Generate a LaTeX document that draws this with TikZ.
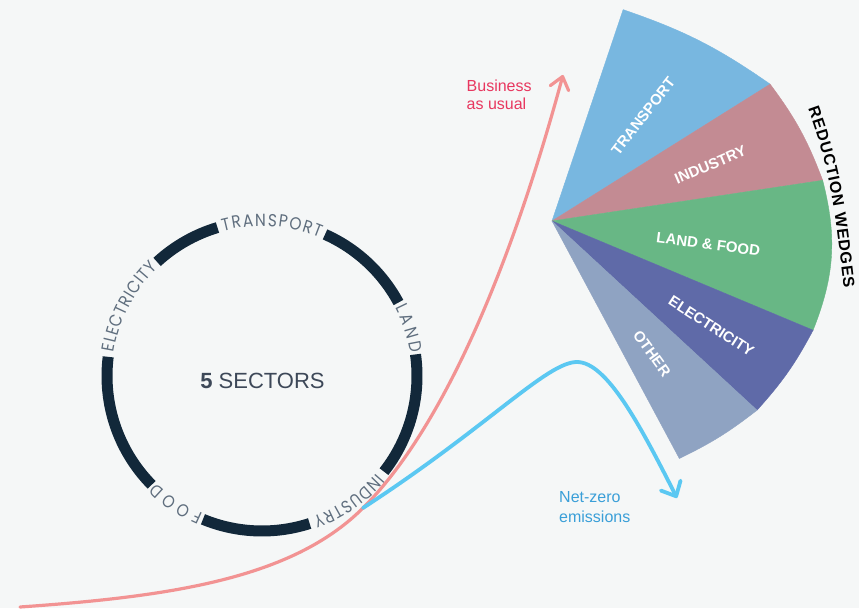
\documentclass[tikz,border=0pt]{standalone}
\usepackage{fontspec}
\setmainfont{Liberation Sans}
\newfontfamily\ringfont{Poppins}[FakeStretch=0.88]
\usetikzlibrary{arrows.meta,decorations.text}

\definecolor{bgcol}{HTML}{F5F7F7}
\definecolor{ringcol}{HTML}{12283A}
\definecolor{ringtextcol}{HTML}{5F6E7E}
\definecolor{sectorcol}{HTML}{3D4858}
\definecolor{baucol}{HTML}{F29393}
\definecolor{bautextcol}{HTML}{E8375F}
\definecolor{nzcol}{HTML}{5BC8F2}
\definecolor{nztextcol}{HTML}{3A9FD8}
\definecolor{transportcol}{HTML}{78B7E0}
\definecolor{industrycol}{HTML}{C38B93}
\definecolor{landcol}{HTML}{68B785}
\definecolor{electricitycol}{HTML}{5F6AA8}
\definecolor{othercol}{HTML}{8FA3C2}

\newcommand{\ringtxt}{\ringfont\fontsize{17.5}{18}\selectfont\color{ringtextcol}}
\newcommand{\rwtxt}{\bfseries\fontsize{16}{16}\selectfont\color{black}}

\begin{document}
\begin{tikzpicture}[x=1pt,y=1pt]
	\tikzstyle{ring}=[draw=ringcol,line width=11pt]
	\tikzstyle{ringtext}=[decorate,decoration={text along path,text align=fit to path}]
	\tikzstyle{wedge}=[draw=white,line width=0.4pt,line join=round]
	\tikzstyle{wedgelabel}=[text=white,font=\bfseries\fontsize{15}{16}\selectfont,inner sep=0pt]
	\tikzstyle{curvetext}=[align=left,anchor=north west,inner sep=0pt,font=\fontsize{16}{18.5}\selectfont]
	\tikzstyle{bau}=[draw=baucol,line width=3.2pt,line cap=round,-{Straight Barb[round,length=12pt,width=19pt]}]
	\tikzstyle{netzero}=[draw=nzcol,line width=3.8pt,line cap=round,-{Straight Barb[round,length=12pt,width=22pt]}]
	\fill[bgcol] (0,0) rectangle (859,608);
	\useasboundingbox (0,0) rectangle (859,608);

	\coordinate (ringctr) at (262,232);
	\draw[ring] ([shift={(106.7:155)}]ringctr) arc[start angle=106.7,end angle=132.6,radius=155pt];
	\draw[ring] ([shift={(172.9:155)}]ringctr) arc[start angle=172.9,end angle=224.6,radius=155pt];
	\draw[ring] ([shift={(-112.4:155)}]ringctr) arc[start angle=-112.4,end angle=-72.1,radius=155pt];
	\draw[ring] ([shift={(-38.1:155)}]ringctr) arc[start angle=-38.1,end angle=8,radius=155pt];
	\draw[ring] ([shift={(28.3:155)}]ringctr) arc[start angle=28.3,end angle=66,radius=155pt];
	\path[ringtext,decoration={text={|\ringtxt|TRANSPORT}}] ([shift={(105:150)}]ringctr) arc[start angle=105,end angle=67.4,radius=150pt];
	\path[ringtext,decoration={text={|\ringtxt|ELECTRICITY}}] ([shift={(171:150)}]ringctr) arc[start angle=171,end angle=133.8,radius=150pt];
	\path[ringtext,decoration={text={|\ringtxt|LAND}}] ([shift={(27:150)}]ringctr) arc[start angle=27,end angle=8.8,radius=150pt];
	\path[ringtext,decoration={text={|\ringtxt|INDUSTRY}}] ([shift={(-40.3:150)}]ringctr) arc[start angle=-40.3,end angle=-70.2,radius=150pt];
	\path[ringtext,decoration={text={|\ringtxt|FOOD}}] ([shift={(-113.2:150)}]ringctr) arc[start angle=-113.2,end angle=-134.5,radius=150pt];
	\node[text=sectorcol,font=\fontsize{22}{24}\selectfont] (sectors) at (262.5,227) {\textbf{5} SECTORS};

	\begin{scope}[shift={(552,387)}]
		\coordinate (apex) at (0,0);
		\coordinate (w1) at (71.4:223);
		\coordinate (w2) at (32.1:257.5);
		\coordinate (w3) at (8.55:273.7);
		\coordinate (w4) at (-22.7:283);
		\coordinate (w5) at (-42.7:279);
		\coordinate (w6) at (-61.8:269.5);
		\fill[wedge,transportcol] (apex) -- (w1) to[bend left=8] (w2) -- cycle;
		\fill[wedge,industrycol] (apex) -- (w2) to[bend left=8] (w3) -- cycle;
		\fill[wedge,landcol] (apex) -- (w3) to[bend left=18] (w4) -- cycle;
		\fill[wedge,electricitycol] (apex) -- (w4) to[bend left=7] (w5) -- cycle;
		\fill[wedge,othercol] (apex) -- (w5) to[bend left=6] (w6) -- cycle;
		\node[wedgelabel,rotate=52] (ltransport) at (49:139) {TRANSPORT};
		\node[wedgelabel,rotate=23] (lindustry) at (19.5:168) {INDUSTRY};
		\node[wedgelabel,rotate=-7.4] (lland) at (-8.4:158) {LAND \& FOOD};
		\node[wedgelabel,rotate=-33] (lelectricity) at (-33.4:191) {ELECTRICITY};
		\node[wedgelabel,rotate=-54] (lother) at (-53:166) {OTHER};
	\end{scope}
	\coordinate (rw1) at (808,499);
	\coordinate (rw2) at (844,320);
	\path[decorate,decoration={text along path,text align=fit to path,text={|\rwtxt|REDUCTION WEDGES}}] (rw1) to[out=-70,in=97] (rw2);

	\coordinate (bau0) at (20,1);
	\coordinate (split) at (363,100);
	\coordinate (bau1) at (563,533);
	\coordinate (nzpeak) at (577,246);
	\coordinate (nzend) at (677,110);
	\draw[bau] (bau0) .. controls (170,11.5) and (292,29) .. (split) .. controls (462,199) and (529,407.4) .. (bau1);
	\draw[netzero] (split) .. controls (489,182) and (547,246) .. (nzpeak) .. controls (607,246) and (641,181) .. (nzend);
	\node[curvetext,text=bautextcol] (bautext) at (466.5,528.5) {Business\\as usual};
	\node[curvetext,text=nztextcol,font=\fontsize{16}{20}\selectfont] (nztext) at (559,116.5) {Net-zero\\emissions};
\end{tikzpicture}
\end{document}
